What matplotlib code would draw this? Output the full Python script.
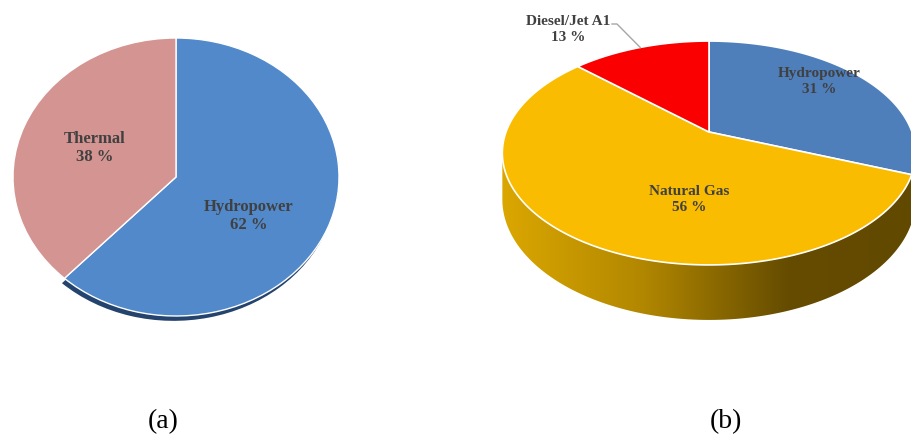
import numpy as np
import matplotlib
matplotlib.use('Agg')
import matplotlib.pyplot as plt
from matplotlib.patches import Polygon
from matplotlib.colors import LinearSegmentedColormap

# (a) installed capacity shares
labels_a = ['Hydropower', 'Thermal']
shares_a = [62, 38]
colors_a = ['#5189CB', '#D39492']

# (b) generation shares
labels_b = ['Hydropower', 'Natural Gas', 'Diesel/Jet A1']
shares_b = [31, 56, 13]
colors_b = ['#4F7FBB', '#F9BC00', '#FA0000']
sides_b = ['#2F4F7C', None, '#9A0000']

W, H_PX = 911, 440
fig = plt.figure(figsize=(W / 100, H_PX / 100), dpi=100)
fig.patch.set_facecolor('white')

# ---- left pie (flat, slightly tilted) ----
axa = fig.add_axes([13 / W, 1 - 316 / H_PX, 326 / W, 278 / H_PX])
# dark rim under the front of the pie
axa.pie(shares_a, colors=['#24446E', 'none'], startangle=90,
        counterclock=False, center=(-0.015, -0.035))
axa.pie(shares_a, colors=colors_a, startangle=90, counterclock=False,
        wedgeprops=dict(edgecolor='white', linewidth=1))
axa.set_aspect('auto')
axa.set_xlim(-1, 1)
axa.set_ylim(-1, 1)

# ---- overlay axes in pixel coordinates ----
ax = fig.add_axes([0, 0, 1, 1])
ax.axis('off')

# 3D pie geometry (perspective projection of a disc)
cx, cy, a, b, k, depth = 709, 132, 203, 108, 0.1875, 44.7


def proj(theta, z=0.0):
    t = np.radians(theta)
    d = 1 + k * np.cos(t)
    return cx + a * np.sin(t) / d, cy - b * np.cos(t) / d + z / d


bounds = np.concatenate([[0], np.cumsum(shares_b)]) * 3.6
theta_r = np.degrees(np.arccos(-k))
theta_l = 360 - theta_r

wall_cmap = LinearSegmentedColormap.from_list(
    'wall', [(0.0, '#DBA700'), (0.34, '#B38800'), (0.70, '#654C00'), (1.0, '#624900')])
grad = np.linspace(0, 1, 256).reshape(1, -1)

# side walls
for i in range(len(shares_b)):
    lo = max(bounds[i], theta_r)
    hi = min(bounds[i + 1], theta_l)
    if lo >= hi:
        continue
    ts = np.linspace(lo, hi, 120)
    top = np.array([proj(t) for t in ts])
    bot = np.array([proj(t, depth) for t in ts[::-1]])
    pts = np.vstack([top, bot])
    if sides_b[i] is None:
        poly = Polygon(pts, closed=True, facecolor='none', edgecolor='none')
        ax.add_patch(poly)
        im = ax.imshow(grad, cmap=wall_cmap, extent=(500, 911, 330, 150),
                       aspect='auto', zorder=1)
        im.set_clip_path(poly)
    else:
        ax.add_patch(Polygon(pts, closed=True, facecolor=sides_b[i],
                             edgecolor='none', zorder=1))

# top faces
for i in range(len(shares_b)):
    ts = np.linspace(bounds[i], bounds[i + 1], 200)
    arc = np.array([proj(t) for t in ts])
    pts = np.vstack([[cx, cy], arc])
    ax.add_patch(Polygon(pts, closed=True, facecolor=colors_b[i],
                         edgecolor='white', linewidth=1.2, zorder=3))

ax.set_xlim(0, W)
ax.set_ylim(H_PX, 0)

# labels
lab = dict(family='Liberation Serif', weight='bold', color='#404040',
           ha='center', va='center', zorder=5)
pos_a = [(249, 216), (95, 148)]
for name, val, (x, y) in zip(labels_a, shares_a, pos_a):
    ax.text(x, y, f'{name}\n{val} %', fontsize=12, linespacing=1.15, **lab)

pos_b = [(819, 81.5), (689, 199.5), (568, 29.5)]
for name, val, (x, y) in zip(labels_b, shares_b, pos_b):
    ax.text(x, y, f'{name}\n{val} %', fontsize=11, linespacing=1.24, **lab)

# leader line for the small slice
mid = (bounds[2] + bounds[3]) / 2
ex, ey = proj(mid)
ax.plot([612, 617, ex], [24, 24, ey], color='#A6A6A6', linewidth=1, zorder=4)

ax.text(163, 422, '(a)', family='Liberation Serif', fontsize=20,
        ha='center', va='center', color='black')
ax.text(726, 422, '(b)', family='Liberation Serif', fontsize=20,
        ha='center', va='center', color='black')

fig.savefig('out.png', dpi=100, facecolor='white')
